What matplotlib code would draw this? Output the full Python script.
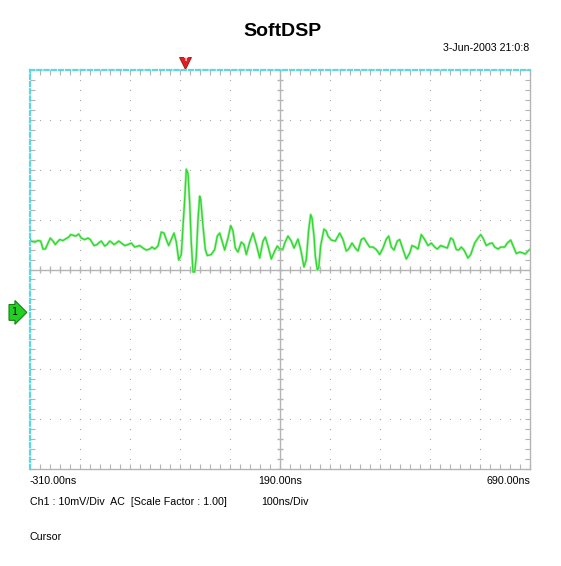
import numpy as np
import matplotlib
matplotlib.use('Agg')
import matplotlib.pyplot as plt
import matplotlib.transforms as mtransforms

plt.rcParams['lines.scale_dashes'] = False

# scope settings
t_start = -310.0      # ns, left edge
t_div = 100.0         # ns per division
v_div = 10.0          # mV per division
n_xdiv = 10
n_ydiv = 8
ground_level = -8.6   # mV, channel 1 marker
trigger_time = 0.0    # ns

# captured trace, time in ns, amplitude in mV
trace_t = [-310, -308.6, -300.6, -294, -288.6, -284, -279.4, -274, -269.4, -264, -259.4, -255.4,
           -250.6, -244, -239.4, -232.6, -228.6, -222, -218.6, -212.6, -207.4, -200.6, -194,
           -189.4, -182, -176, -170.6, -167.4, -160.6, -156, -150.6, -147.4, -142, -137.4,
           -132.6, -127.4, -120.6, -114,
           -107.4, -100.6, -90.6, -84, -77.4, -70.6, -66, -60.6, -54, -47.4, -42, -37.4, -32.6,
           -27.4, -22, -17.4, -12.6, -7.4, -4, -0.6, 2.6, 6, 9.4, 12.6, 16, 19.4, 22.6, 26,
           29.4, 31.4, 36, 40.6, 44.6, 52.6, 59.4, 64.6, 69.4, 74, 79.4, 86,
           91.4, 96, 100.6, 106, 112.6, 118, 122.6, 129.4, 136, 142.6, 149.4, 156, 160.6, 166,
           172.6, 179.4, 184.6, 189.4, 196, 199.4, 206, 212.6, 218, 226, 231.4, 238, 242.6,
           247.4, 251.4, 254, 258, 260.6, 264.6, 267.4, 271.4, 278, 282.6, 286,
           292.6, 300.6, 309.4, 316, 322.6, 327.4, 334, 340.6, 346, 352.6, 358, 364.6, 369.4,
           376, 382.6, 389.4, 396, 402.6, 407.4, 412.6, 418, 424.6, 429.4, 436, 442.6, 449.4,
           454, 460.6, 466, 472.6, 479.4, 486,
           492.6, 499.4, 504.6, 511.4, 519.4, 524.6, 531.4, 536, 542.6, 547.4, 552.6, 558, 566,
           571.4, 579.4, 586, 591.4, 596, 602.6, 609.4, 614.6, 619.4, 626, 631.4, 639.4, 644.6,
           651.4, 656, 662.6, 669.4, 676, 680.6, 686, 689.4]
trace_v = [6.3, 5.7, 5.5, 5.8, 5.7, 4.1, 4.1, 5.3, 6.3, 5.7, 5.0, 5.5,
           6.0, 5.8, 6.1, 6.5, 7.0, 6.8, 6.7, 7.1, 6.3, 6.0, 6.3,
           6.0, 4.8, 5.0, 5.5, 5.7, 4.7, 5.0, 5.7, 5.5, 5.0, 5.3,
           5.7, 5.3, 4.8, 5.0,
           5.3, 4.5, 4.8, 4.3, 3.9, 4.1, 4.5, 4.1, 4.7, 7.5, 7.3, 6.0, 4.8,
           6.0, 7.3, 5.5, 1.9, 3.0, 8.7, 14.0, 20.1, 19.3, 13.3, 5.3, -0.5, -0.5, 2.7, 10.0,
           14.7, 14.1, 8.7, 4.0, 2.8, 3.0, 4.0, 6.7, 7.3, 5.7, 3.9, 6.3,
           8.8, 7.7, 4.3, 3.5, 5.5, 5.0, 3.0, 5.5, 7.3, 5.0, 2.3, 5.7, 6.5, 4.7,
           2.1, 3.7, 4.7, 4.1, 4.1, 5.3, 6.7, 5.7, 4.3, 6.1, 4.0, 0.5, 2.0,
           8.0, 11.0, 10.3, 6.7, 2.7, -0.1, 0.3, 4.8, 8.1, 7.7, 6.7,
           5.9, 5.7, 7.3, 6.0, 3.7, 4.1, 5.3, 4.3, 3.7, 6.0, 6.3, 5.2, 4.5,
           4.5, 4.0, 3.0, 4.3, 6.1, 6.7, 4.5, 3.9, 5.7, 6.0, 4.0, 2.1, 3.3,
           4.8, 4.5, 4.1, 7.0, 6.0, 4.8,
           5.3, 4.5, 4.1, 4.8, 4.5, 4.3, 6.3, 6.0, 4.0, 3.9, 4.5, 3.9, 2.3,
           3.0, 5.3, 6.3, 7.0, 6.3, 4.8, 5.2, 5.3, 4.5, 4.1, 4.5, 4.5, 5.3,
           5.9, 4.8, 3.2, 3.5, 3.3, 3.1, 3.7, 4.0]

title = 'SoftDSP'
timestamp = '3-Jun-2003 21:0:8'
x_labels = ['-310.00ns', '190.00ns', '690.00ns']
ch_info = 'Ch1 : 10mV/Div  AC  [Scale Factor : 1.00]'
time_info = '100ns/Div'
cursor_label = 'Cursor'

W, H = 561, 566
grid_col = '#b4b4b4'
cyan = '#5ed8dc'
small = ['Liberation Sans', 'DejaVu Sans']
fs = 7.7

fig = plt.figure(figsize=(W / 100, H / 100), dpi=100)
fig.patch.set_facecolor('white')
ax = fig.add_axes([30 / W, 97 / H, 500 / W, 399 / H])

t_end = t_start + n_xdiv * t_div
v_top = n_ydiv / 2 * v_div
t_mid = t_start + n_xdiv / 2 * t_div
ax.set_xlim(t_start, t_end)
ax.set_ylim(-v_top, v_top)

# dotted graticule: one dot per minor step on each division line
x_major = t_start + t_div * np.arange(1, n_xdiv)
y_major = -v_top + v_div * np.arange(1, n_ydiv)
x_minor = np.arange(t_start, t_end + 1, t_div / 5)
y_minor = np.arange(-v_top, v_top + 0.1, v_div / 5)
gx, gy = np.meshgrid(x_major[x_major != t_mid], y_minor)
ax.plot(gx.ravel(), gy.ravel(), ls='none', marker='s', ms=0.8, mew=0, color='#a8a8a8')
gx, gy = np.meshgrid(x_minor, y_major[y_major != 0])
ax.plot(gx.ravel(), gy.ravel(), ls='none', marker='s', ms=0.8, mew=0, color='#a8a8a8')

# centre cross with small ticks
ax.axvline(t_mid, color=grid_col, lw=1)
ax.axhline(0, color=grid_col, lw=1)
ax.vlines(x_minor, -0.7, 0.7, color=grid_col, lw=1)
ax.hlines(y_minor, t_mid - 6, t_mid + 6, color=grid_col, lw=1)

# edge ticks
ax.set_xticks(x_minor)
ax.set_yticks(y_minor)
ax.tick_params(direction='in', length=3.8, width=0.8, color=grid_col,
               top=True, right=True, labelbottom=False, labelleft=False)

for s in ['right', 'bottom']:
    ax.spines[s].set_color(grid_col)
    ax.spines[s].set_linewidth(1)
for s in ['left', 'top']:
    ax.spines[s].set_color(cyan)
    ax.spines[s].set_linewidth(1.6)
    ax.spines[s].set_linestyle((0, (3.0, 2.2)))

# trace
ax.plot(trace_t, trace_v, color='#b8f2b8', lw=2.0, solid_joinstyle='round')
ax.plot(trace_t, trace_v, color='#30d830', lw=1.0, solid_joinstyle='round')

# trigger marker
trans = mtransforms.blended_transform_factory(ax.transData, ax.transAxes)
ax.plot([trigger_time], [1.018], transform=trans, marker='v', ms=9, color='#e02020',
        mec='#a01010', mew=0.6, clip_on=False)
ax.text(trigger_time, 1.026, 'T', transform=trans, ha='center', va='center',
        fontsize=4.5, color='white', fontweight='bold')

# channel ground marker
trans2 = mtransforms.blended_transform_factory(ax.transAxes, ax.transData)
ax.text(-0.03, ground_level, '1', transform=trans2, ha='center', va='center',
        fontsize=7, color='black',
        bbox=dict(boxstyle='rarrow,pad=0.3', fc='#22d022', ec='#108010', lw=0.8))

# text
fig.text(282 / W, 1 - 32 / H, title, ha='center', va='center', fontsize=14,
         fontweight='bold', family=small)
fig.text(529 / W, 1 - 48 / H, timestamp, ha='right', va='center', fontsize=fs, family=small)
fig.text(30 / W, 1 - 481 / H, x_labels[0], ha='left', va='center', fontsize=fs, family=small)
fig.text(280 / W, 1 - 481 / H, x_labels[1], ha='center', va='center', fontsize=fs, family=small)
fig.text(530 / W, 1 - 481 / H, x_labels[2], ha='right', va='center', fontsize=fs, family=small)
fig.text(30 / W, 1 - 502 / H, ch_info, ha='left', va='center', fontsize=fs, family=small)
fig.text(261 / W, 1 - 502 / H, time_info, ha='left', va='center', fontsize=fs, family=small)
fig.text(30 / W, 1 - 537 / H, cursor_label, ha='left', va='center', fontsize=fs, family=small)

fig.savefig('out.png', dpi=100)
